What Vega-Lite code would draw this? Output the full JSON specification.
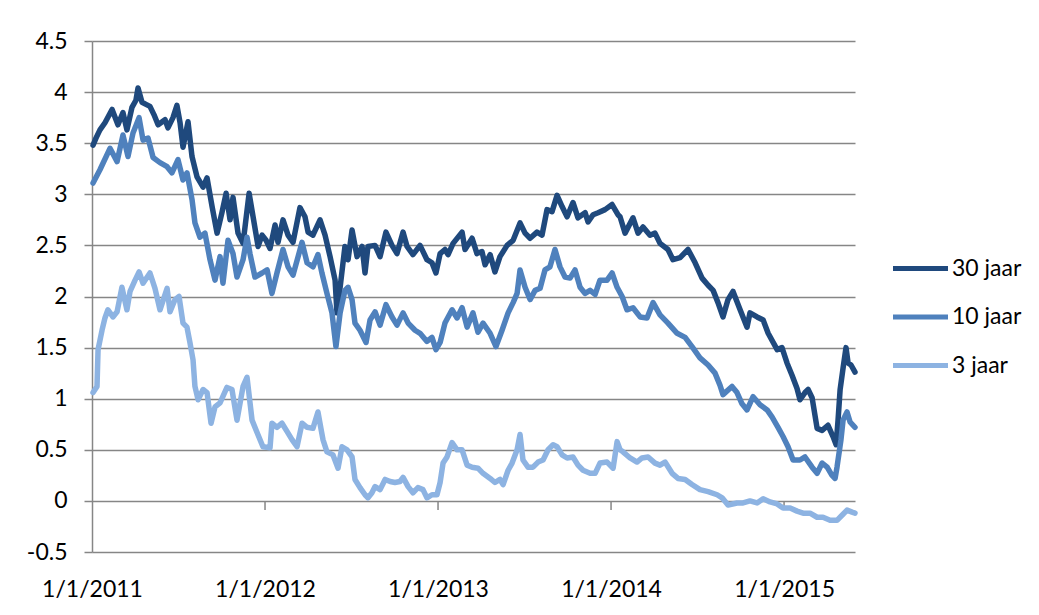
{
  "$schema": "https://vega.github.io/schema/vega-lite/v6.json",
  "width": 763,
  "height": 511,
  "autosize": {"type": "none"},
  "padding": {"left": 92, "top": 41, "right": 184, "bottom": 63},
  "background": "white",
  "config": {
    "view": {"stroke": null},
    "font": "Lato",
    "axis": {"labelFont": "Lato", "labelFontSize": 23, "labelColor": "#000000", "title": null}
  },
  "datasets": {
    "rente": [
      {"reeks":"30 jaar","t":2011.006,"rente":3.48},{"reeks":"30 jaar","t":2011.023,"rente":3.55},{"reeks":"30 jaar","t":2011.046,"rente":3.63},{"reeks":"30 jaar","t":2011.075,"rente":3.70},{"reeks":"30 jaar","t":2011.116,"rente":3.83},{"reeks":"30 jaar","t":2011.150,"rente":3.68},{"reeks":"30 jaar","t":2011.179,"rente":3.80},{"reeks":"30 jaar","t":2011.202,"rente":3.63},{"reeks":"30 jaar","t":2011.231,"rente":3.85},{"reeks":"30 jaar","t":2011.254,"rente":3.92},{"reeks":"30 jaar","t":2011.266,"rente":4.04},{"reeks":"30 jaar","t":2011.289,"rente":3.90},{"reeks":"30 jaar","t":2011.312,"rente":3.88},{"reeks":"30 jaar","t":2011.335,"rente":3.86},{"reeks":"30 jaar","t":2011.358,"rente":3.78},{"reeks":"30 jaar","t":2011.382,"rente":3.68},{"reeks":"30 jaar","t":2011.422,"rente":3.73},{"reeks":"30 jaar","t":2011.439,"rente":3.65},{"reeks":"30 jaar","t":2011.468,"rente":3.75},{"reeks":"30 jaar","t":2011.491,"rente":3.87},{"reeks":"30 jaar","t":2011.509,"rente":3.70},{"reeks":"30 jaar","t":2011.526,"rente":3.46},{"reeks":"30 jaar","t":2011.555,"rente":3.71},{"reeks":"30 jaar","t":2011.578,"rente":3.37},{"reeks":"30 jaar","t":2011.607,"rente":3.17},{"reeks":"30 jaar","t":2011.642,"rente":3.07},{"reeks":"30 jaar","t":2011.665,"rente":3.16},{"reeks":"30 jaar","t":2011.694,"rente":2.88},{"reeks":"30 jaar","t":2011.723,"rente":2.62},{"reeks":"30 jaar","t":2011.751,"rente":2.82},{"reeks":"30 jaar","t":2011.775,"rente":3.01},{"reeks":"30 jaar","t":2011.798,"rente":2.75},{"reeks":"30 jaar","t":2011.815,"rente":2.97},{"reeks":"30 jaar","t":2011.844,"rente":2.62},{"reeks":"30 jaar","t":2011.873,"rente":2.52},{"reeks":"30 jaar","t":2011.908,"rente":3.01},{"reeks":"30 jaar","t":2011.931,"rente":2.78},{"reeks":"30 jaar","t":2011.960,"rente":2.49},{"reeks":"30 jaar","t":2011.983,"rente":2.60},{"reeks":"30 jaar","t":2012.006,"rente":2.55},{"reeks":"30 jaar","t":2012.029,"rente":2.47},{"reeks":"30 jaar","t":2012.058,"rente":2.70},{"reeks":"30 jaar","t":2012.075,"rente":2.53},{"reeks":"30 jaar","t":2012.104,"rente":2.75},{"reeks":"30 jaar","t":2012.133,"rente":2.60},{"reeks":"30 jaar","t":2012.162,"rente":2.53},{"reeks":"30 jaar","t":2012.202,"rente":2.87},{"reeks":"30 jaar","t":2012.231,"rente":2.78},{"reeks":"30 jaar","t":2012.249,"rente":2.63},{"reeks":"30 jaar","t":2012.277,"rente":2.60},{"reeks":"30 jaar","t":2012.318,"rente":2.75},{"reeks":"30 jaar","t":2012.347,"rente":2.60},{"reeks":"30 jaar","t":2012.376,"rente":2.39},{"reeks":"30 jaar","t":2012.405,"rente":2.16},{"reeks":"30 jaar","t":2012.416,"rente":1.84},{"reeks":"30 jaar","t":2012.434,"rente":2.09},{"reeks":"30 jaar","t":2012.462,"rente":2.49},{"reeks":"30 jaar","t":2012.480,"rente":2.36},{"reeks":"30 jaar","t":2012.503,"rente":2.65},{"reeks":"30 jaar","t":2012.532,"rente":2.39},{"reeks":"30 jaar","t":2012.561,"rente":2.49},{"reeks":"30 jaar","t":2012.578,"rente":2.23},{"reeks":"30 jaar","t":2012.595,"rente":2.49},{"reeks":"30 jaar","t":2012.636,"rente":2.50},{"reeks":"30 jaar","t":2012.665,"rente":2.39},{"reeks":"30 jaar","t":2012.699,"rente":2.63},{"reeks":"30 jaar","t":2012.734,"rente":2.50},{"reeks":"30 jaar","t":2012.763,"rente":2.42},{"reeks":"30 jaar","t":2012.798,"rente":2.63},{"reeks":"30 jaar","t":2012.821,"rente":2.49},{"reeks":"30 jaar","t":2012.855,"rente":2.41},{"reeks":"30 jaar","t":2012.896,"rente":2.50},{"reeks":"30 jaar","t":2012.936,"rente":2.36},{"reeks":"30 jaar","t":2012.965,"rente":2.33},{"reeks":"30 jaar","t":2012.988,"rente":2.23},{"reeks":"30 jaar","t":2013.012,"rente":2.42},{"reeks":"30 jaar","t":2013.040,"rente":2.46},{"reeks":"30 jaar","t":2013.058,"rente":2.41},{"reeks":"30 jaar","t":2013.087,"rente":2.52},{"reeks":"30 jaar","t":2013.139,"rente":2.63},{"reeks":"30 jaar","t":2013.156,"rente":2.46},{"reeks":"30 jaar","t":2013.197,"rente":2.57},{"reeks":"30 jaar","t":2013.225,"rente":2.42},{"reeks":"30 jaar","t":2013.254,"rente":2.44},{"reeks":"30 jaar","t":2013.272,"rente":2.31},{"reeks":"30 jaar","t":2013.301,"rente":2.41},{"reeks":"30 jaar","t":2013.329,"rente":2.24},{"reeks":"30 jaar","t":2013.358,"rente":2.39},{"reeks":"30 jaar","t":2013.399,"rente":2.50},{"reeks":"30 jaar","t":2013.434,"rente":2.55},{"reeks":"30 jaar","t":2013.474,"rente":2.72},{"reeks":"30 jaar","t":2013.503,"rente":2.62},{"reeks":"30 jaar","t":2013.532,"rente":2.57},{"reeks":"30 jaar","t":2013.572,"rente":2.63},{"reeks":"30 jaar","t":2013.601,"rente":2.60},{"reeks":"30 jaar","t":2013.630,"rente":2.85},{"reeks":"30 jaar","t":2013.659,"rente":2.83},{"reeks":"30 jaar","t":2013.688,"rente":2.99},{"reeks":"30 jaar","t":2013.717,"rente":2.88},{"reeks":"30 jaar","t":2013.746,"rente":2.78},{"reeks":"30 jaar","t":2013.780,"rente":2.92},{"reeks":"30 jaar","t":2013.809,"rente":2.77},{"reeks":"30 jaar","t":2013.850,"rente":2.82},{"reeks":"30 jaar","t":2013.867,"rente":2.73},{"reeks":"30 jaar","t":2013.896,"rente":2.80},{"reeks":"30 jaar","t":2013.925,"rente":2.82},{"reeks":"30 jaar","t":2013.965,"rente":2.85},{"reeks":"30 jaar","t":2014.006,"rente":2.90},{"reeks":"30 jaar","t":2014.040,"rente":2.80},{"reeks":"30 jaar","t":2014.052,"rente":2.78},{"reeks":"30 jaar","t":2014.081,"rente":2.62},{"reeks":"30 jaar","t":2014.127,"rente":2.77},{"reeks":"30 jaar","t":2014.156,"rente":2.62},{"reeks":"30 jaar","t":2014.185,"rente":2.68},{"reeks":"30 jaar","t":2014.225,"rente":2.60},{"reeks":"30 jaar","t":2014.254,"rente":2.62},{"reeks":"30 jaar","t":2014.283,"rente":2.52},{"reeks":"30 jaar","t":2014.329,"rente":2.46},{"reeks":"30 jaar","t":2014.358,"rente":2.36},{"reeks":"30 jaar","t":2014.399,"rente":2.38},{"reeks":"30 jaar","t":2014.445,"rente":2.46},{"reeks":"30 jaar","t":2014.486,"rente":2.33},{"reeks":"30 jaar","t":2014.526,"rente":2.18},{"reeks":"30 jaar","t":2014.561,"rente":2.11},{"reeks":"30 jaar","t":2014.590,"rente":2.06},{"reeks":"30 jaar","t":2014.618,"rente":1.94},{"reeks":"30 jaar","t":2014.647,"rente":1.80},{"reeks":"30 jaar","t":2014.676,"rente":1.97},{"reeks":"30 jaar","t":2014.705,"rente":2.05},{"reeks":"30 jaar","t":2014.746,"rente":1.87},{"reeks":"30 jaar","t":2014.786,"rente":1.70},{"reeks":"30 jaar","t":2014.803,"rente":1.84},{"reeks":"30 jaar","t":2014.844,"rente":1.80},{"reeks":"30 jaar","t":2014.879,"rente":1.77},{"reeks":"30 jaar","t":2014.908,"rente":1.64},{"reeks":"30 jaar","t":2014.960,"rente":1.48},{"reeks":"30 jaar","t":2014.988,"rente":1.50},{"reeks":"30 jaar","t":2015.017,"rente":1.35},{"reeks":"30 jaar","t":2015.046,"rente":1.23},{"reeks":"30 jaar","t":2015.075,"rente":1.10},{"reeks":"30 jaar","t":2015.092,"rente":0.99},{"reeks":"30 jaar","t":2015.121,"rente":1.06},{"reeks":"30 jaar","t":2015.139,"rente":1.09},{"reeks":"30 jaar","t":2015.162,"rente":1.01},{"reeks":"30 jaar","t":2015.191,"rente":0.71},{"reeks":"30 jaar","t":2015.220,"rente":0.69},{"reeks":"30 jaar","t":2015.254,"rente":0.74},{"reeks":"30 jaar","t":2015.283,"rente":0.63},{"reeks":"30 jaar","t":2015.301,"rente":0.55},{"reeks":"30 jaar","t":2015.312,"rente":0.79},{"reeks":"30 jaar","t":2015.324,"rente":1.09},{"reeks":"30 jaar","t":2015.341,"rente":1.30},{"reeks":"30 jaar","t":2015.358,"rente":1.50},{"reeks":"30 jaar","t":2015.370,"rente":1.35},{"reeks":"30 jaar","t":2015.387,"rente":1.33},{"reeks":"30 jaar","t":2015.410,"rente":1.26},
      {"reeks":"10 jaar","t":2011.006,"rente":3.11},{"reeks":"10 jaar","t":2011.046,"rente":3.24},{"reeks":"10 jaar","t":2011.104,"rente":3.45},{"reeks":"10 jaar","t":2011.145,"rente":3.32},{"reeks":"10 jaar","t":2011.179,"rente":3.58},{"reeks":"10 jaar","t":2011.208,"rente":3.37},{"reeks":"10 jaar","t":2011.237,"rente":3.60},{"reeks":"10 jaar","t":2011.272,"rente":3.75},{"reeks":"10 jaar","t":2011.295,"rente":3.53},{"reeks":"10 jaar","t":2011.324,"rente":3.55},{"reeks":"10 jaar","t":2011.353,"rente":3.36},{"reeks":"10 jaar","t":2011.393,"rente":3.31},{"reeks":"10 jaar","t":2011.434,"rente":3.27},{"reeks":"10 jaar","t":2011.462,"rente":3.21},{"reeks":"10 jaar","t":2011.497,"rente":3.34},{"reeks":"10 jaar","t":2011.526,"rente":3.14},{"reeks":"10 jaar","t":2011.549,"rente":3.21},{"reeks":"10 jaar","t":2011.578,"rente":2.95},{"reeks":"10 jaar","t":2011.595,"rente":2.72},{"reeks":"10 jaar","t":2011.624,"rente":2.58},{"reeks":"10 jaar","t":2011.653,"rente":2.62},{"reeks":"10 jaar","t":2011.682,"rente":2.36},{"reeks":"10 jaar","t":2011.711,"rente":2.16},{"reeks":"10 jaar","t":2011.740,"rente":2.39},{"reeks":"10 jaar","t":2011.757,"rente":2.13},{"reeks":"10 jaar","t":2011.786,"rente":2.55},{"reeks":"10 jaar","t":2011.815,"rente":2.42},{"reeks":"10 jaar","t":2011.838,"rente":2.19},{"reeks":"10 jaar","t":2011.873,"rente":2.36},{"reeks":"10 jaar","t":2011.896,"rente":2.58},{"reeks":"10 jaar","t":2011.913,"rente":2.42},{"reeks":"10 jaar","t":2011.942,"rente":2.19},{"reeks":"10 jaar","t":2011.983,"rente":2.23},{"reeks":"10 jaar","t":2012.012,"rente":2.26},{"reeks":"10 jaar","t":2012.040,"rente":2.03},{"reeks":"10 jaar","t":2012.069,"rente":2.23},{"reeks":"10 jaar","t":2012.104,"rente":2.46},{"reeks":"10 jaar","t":2012.133,"rente":2.29},{"reeks":"10 jaar","t":2012.162,"rente":2.21},{"reeks":"10 jaar","t":2012.214,"rente":2.53},{"reeks":"10 jaar","t":2012.243,"rente":2.33},{"reeks":"10 jaar","t":2012.277,"rente":2.29},{"reeks":"10 jaar","t":2012.306,"rente":2.41},{"reeks":"10 jaar","t":2012.329,"rente":2.23},{"reeks":"10 jaar","t":2012.358,"rente":2.03},{"reeks":"10 jaar","t":2012.387,"rente":1.84},{"reeks":"10 jaar","t":2012.410,"rente":1.51},{"reeks":"10 jaar","t":2012.434,"rente":1.84},{"reeks":"10 jaar","t":2012.462,"rente":2.06},{"reeks":"10 jaar","t":2012.480,"rente":2.09},{"reeks":"10 jaar","t":2012.503,"rente":1.97},{"reeks":"10 jaar","t":2012.520,"rente":1.74},{"reeks":"10 jaar","t":2012.549,"rente":1.67},{"reeks":"10 jaar","t":2012.584,"rente":1.55},{"reeks":"10 jaar","t":2012.607,"rente":1.77},{"reeks":"10 jaar","t":2012.636,"rente":1.85},{"reeks":"10 jaar","t":2012.665,"rente":1.72},{"reeks":"10 jaar","t":2012.699,"rente":1.92},{"reeks":"10 jaar","t":2012.734,"rente":1.80},{"reeks":"10 jaar","t":2012.763,"rente":1.72},{"reeks":"10 jaar","t":2012.798,"rente":1.84},{"reeks":"10 jaar","t":2012.827,"rente":1.74},{"reeks":"10 jaar","t":2012.867,"rente":1.67},{"reeks":"10 jaar","t":2012.896,"rente":1.64},{"reeks":"10 jaar","t":2012.936,"rente":1.56},{"reeks":"10 jaar","t":2012.965,"rente":1.60},{"reeks":"10 jaar","t":2012.988,"rente":1.48},{"reeks":"10 jaar","t":2013.012,"rente":1.55},{"reeks":"10 jaar","t":2013.040,"rente":1.74},{"reeks":"10 jaar","t":2013.081,"rente":1.87},{"reeks":"10 jaar","t":2013.110,"rente":1.79},{"reeks":"10 jaar","t":2013.139,"rente":1.89},{"reeks":"10 jaar","t":2013.168,"rente":1.70},{"reeks":"10 jaar","t":2013.202,"rente":1.84},{"reeks":"10 jaar","t":2013.231,"rente":1.65},{"reeks":"10 jaar","t":2013.260,"rente":1.74},{"reeks":"10 jaar","t":2013.301,"rente":1.64},{"reeks":"10 jaar","t":2013.335,"rente":1.51},{"reeks":"10 jaar","t":2013.370,"rente":1.67},{"reeks":"10 jaar","t":2013.405,"rente":1.84},{"reeks":"10 jaar","t":2013.434,"rente":1.94},{"reeks":"10 jaar","t":2013.457,"rente":2.03},{"reeks":"10 jaar","t":2013.474,"rente":2.26},{"reeks":"10 jaar","t":2013.503,"rente":2.09},{"reeks":"10 jaar","t":2013.532,"rente":1.97},{"reeks":"10 jaar","t":2013.561,"rente":2.06},{"reeks":"10 jaar","t":2013.590,"rente":2.08},{"reeks":"10 jaar","t":2013.618,"rente":2.26},{"reeks":"10 jaar","t":2013.647,"rente":2.29},{"reeks":"10 jaar","t":2013.676,"rente":2.46},{"reeks":"10 jaar","t":2013.705,"rente":2.29},{"reeks":"10 jaar","t":2013.734,"rente":2.19},{"reeks":"10 jaar","t":2013.763,"rente":2.18},{"reeks":"10 jaar","t":2013.792,"rente":2.26},{"reeks":"10 jaar","t":2013.821,"rente":2.09},{"reeks":"10 jaar","t":2013.850,"rente":2.03},{"reeks":"10 jaar","t":2013.879,"rente":2.06},{"reeks":"10 jaar","t":2013.908,"rente":2.02},{"reeks":"10 jaar","t":2013.936,"rente":2.16},{"reeks":"10 jaar","t":2013.977,"rente":2.16},{"reeks":"10 jaar","t":2014.006,"rente":2.23},{"reeks":"10 jaar","t":2014.035,"rente":2.09},{"reeks":"10 jaar","t":2014.064,"rente":2.00},{"reeks":"10 jaar","t":2014.092,"rente":1.87},{"reeks":"10 jaar","t":2014.127,"rente":1.89},{"reeks":"10 jaar","t":2014.168,"rente":1.80},{"reeks":"10 jaar","t":2014.208,"rente":1.79},{"reeks":"10 jaar","t":2014.243,"rente":1.94},{"reeks":"10 jaar","t":2014.283,"rente":1.82},{"reeks":"10 jaar","t":2014.329,"rente":1.74},{"reeks":"10 jaar","t":2014.382,"rente":1.64},{"reeks":"10 jaar","t":2014.428,"rente":1.60},{"reeks":"10 jaar","t":2014.468,"rente":1.51},{"reeks":"10 jaar","t":2014.514,"rente":1.40},{"reeks":"10 jaar","t":2014.561,"rente":1.33},{"reeks":"10 jaar","t":2014.601,"rente":1.25},{"reeks":"10 jaar","t":2014.630,"rente":1.13},{"reeks":"10 jaar","t":2014.647,"rente":1.04},{"reeks":"10 jaar","t":2014.699,"rente":1.12},{"reeks":"10 jaar","t":2014.728,"rente":1.06},{"reeks":"10 jaar","t":2014.757,"rente":0.95},{"reeks":"10 jaar","t":2014.786,"rente":0.89},{"reeks":"10 jaar","t":2014.821,"rente":1.02},{"reeks":"10 jaar","t":2014.861,"rente":0.94},{"reeks":"10 jaar","t":2014.902,"rente":0.89},{"reeks":"10 jaar","t":2014.931,"rente":0.82},{"reeks":"10 jaar","t":2014.965,"rente":0.72},{"reeks":"10 jaar","t":2014.994,"rente":0.63},{"reeks":"10 jaar","t":2015.023,"rente":0.53},{"reeks":"10 jaar","t":2015.052,"rente":0.40},{"reeks":"10 jaar","t":2015.092,"rente":0.40},{"reeks":"10 jaar","t":2015.121,"rente":0.43},{"reeks":"10 jaar","t":2015.162,"rente":0.33},{"reeks":"10 jaar","t":2015.191,"rente":0.27},{"reeks":"10 jaar","t":2015.220,"rente":0.37},{"reeks":"10 jaar","t":2015.249,"rente":0.33},{"reeks":"10 jaar","t":2015.277,"rente":0.25},{"reeks":"10 jaar","t":2015.295,"rente":0.22},{"reeks":"10 jaar","t":2015.306,"rente":0.33},{"reeks":"10 jaar","t":2015.329,"rente":0.60},{"reeks":"10 jaar","t":2015.341,"rente":0.79},{"reeks":"10 jaar","t":2015.364,"rente":0.87},{"reeks":"10 jaar","t":2015.382,"rente":0.77},{"reeks":"10 jaar","t":2015.410,"rente":0.72},
      {"reeks":"3 jaar","t":2011.006,"rente":1.06},{"reeks":"3 jaar","t":2011.029,"rente":1.12},{"reeks":"3 jaar","t":2011.035,"rente":1.48},{"reeks":"3 jaar","t":2011.058,"rente":1.67},{"reeks":"3 jaar","t":2011.075,"rente":1.79},{"reeks":"3 jaar","t":2011.092,"rente":1.87},{"reeks":"3 jaar","t":2011.121,"rente":1.80},{"reeks":"3 jaar","t":2011.145,"rente":1.85},{"reeks":"3 jaar","t":2011.173,"rente":2.09},{"reeks":"3 jaar","t":2011.202,"rente":1.87},{"reeks":"3 jaar","t":2011.220,"rente":2.05},{"reeks":"3 jaar","t":2011.249,"rente":2.16},{"reeks":"3 jaar","t":2011.272,"rente":2.24},{"reeks":"3 jaar","t":2011.295,"rente":2.13},{"reeks":"3 jaar","t":2011.335,"rente":2.23},{"reeks":"3 jaar","t":2011.364,"rente":2.08},{"reeks":"3 jaar","t":2011.393,"rente":1.87},{"reeks":"3 jaar","t":2011.434,"rente":2.08},{"reeks":"3 jaar","t":2011.451,"rente":1.85},{"reeks":"3 jaar","t":2011.480,"rente":1.97},{"reeks":"3 jaar","t":2011.503,"rente":2.00},{"reeks":"3 jaar","t":2011.526,"rente":1.74},{"reeks":"3 jaar","t":2011.549,"rente":1.70},{"reeks":"3 jaar","t":2011.566,"rente":1.55},{"reeks":"3 jaar","t":2011.584,"rente":1.38},{"reeks":"3 jaar","t":2011.595,"rente":1.12},{"reeks":"3 jaar","t":2011.613,"rente":0.99},{"reeks":"3 jaar","t":2011.642,"rente":1.09},{"reeks":"3 jaar","t":2011.665,"rente":1.06},{"reeks":"3 jaar","t":2011.688,"rente":0.76},{"reeks":"3 jaar","t":2011.711,"rente":0.92},{"reeks":"3 jaar","t":2011.740,"rente":0.96},{"reeks":"3 jaar","t":2011.780,"rente":1.11},{"reeks":"3 jaar","t":2011.809,"rente":1.09},{"reeks":"3 jaar","t":2011.838,"rente":0.79},{"reeks":"3 jaar","t":2011.873,"rente":1.12},{"reeks":"3 jaar","t":2011.896,"rente":1.21},{"reeks":"3 jaar","t":2011.925,"rente":0.79},{"reeks":"3 jaar","t":2011.954,"rente":0.67},{"reeks":"3 jaar","t":2011.988,"rente":0.53},{"reeks":"3 jaar","t":2012.029,"rente":0.52},{"reeks":"3 jaar","t":2012.040,"rente":0.76},{"reeks":"3 jaar","t":2012.069,"rente":0.72},{"reeks":"3 jaar","t":2012.098,"rente":0.76},{"reeks":"3 jaar","t":2012.127,"rente":0.68},{"reeks":"3 jaar","t":2012.156,"rente":0.60},{"reeks":"3 jaar","t":2012.185,"rente":0.53},{"reeks":"3 jaar","t":2012.214,"rente":0.76},{"reeks":"3 jaar","t":2012.243,"rente":0.72},{"reeks":"3 jaar","t":2012.277,"rente":0.71},{"reeks":"3 jaar","t":2012.306,"rente":0.87},{"reeks":"3 jaar","t":2012.324,"rente":0.70},{"reeks":"3 jaar","t":2012.335,"rente":0.60},{"reeks":"3 jaar","t":2012.358,"rente":0.48},{"reeks":"3 jaar","t":2012.393,"rente":0.45},{"reeks":"3 jaar","t":2012.422,"rente":0.32},{"reeks":"3 jaar","t":2012.445,"rente":0.53},{"reeks":"3 jaar","t":2012.474,"rente":0.50},{"reeks":"3 jaar","t":2012.503,"rente":0.43},{"reeks":"3 jaar","t":2012.520,"rente":0.21},{"reeks":"3 jaar","t":2012.549,"rente":0.13},{"reeks":"3 jaar","t":2012.578,"rente":0.06},{"reeks":"3 jaar","t":2012.595,"rente":0.03},{"reeks":"3 jaar","t":2012.618,"rente":0.08},{"reeks":"3 jaar","t":2012.636,"rente":0.14},{"reeks":"3 jaar","t":2012.665,"rente":0.11},{"reeks":"3 jaar","t":2012.694,"rente":0.21},{"reeks":"3 jaar","t":2012.723,"rente":0.19},{"reeks":"3 jaar","t":2012.751,"rente":0.18},{"reeks":"3 jaar","t":2012.780,"rente":0.19},{"reeks":"3 jaar","t":2012.798,"rente":0.23},{"reeks":"3 jaar","t":2012.827,"rente":0.14},{"reeks":"3 jaar","t":2012.855,"rente":0.08},{"reeks":"3 jaar","t":2012.884,"rente":0.13},{"reeks":"3 jaar","t":2012.913,"rente":0.11},{"reeks":"3 jaar","t":2012.936,"rente":0.03},{"reeks":"3 jaar","t":2012.965,"rente":0.06},{"reeks":"3 jaar","t":2012.994,"rente":0.06},{"reeks":"3 jaar","t":2013.012,"rente":0.18},{"reeks":"3 jaar","t":2013.029,"rente":0.37},{"reeks":"3 jaar","t":2013.052,"rente":0.43},{"reeks":"3 jaar","t":2013.081,"rente":0.57},{"reeks":"3 jaar","t":2013.110,"rente":0.50},{"reeks":"3 jaar","t":2013.139,"rente":0.50},{"reeks":"3 jaar","t":2013.168,"rente":0.35},{"reeks":"3 jaar","t":2013.197,"rente":0.33},{"reeks":"3 jaar","t":2013.231,"rente":0.32},{"reeks":"3 jaar","t":2013.260,"rente":0.27},{"reeks":"3 jaar","t":2013.301,"rente":0.22},{"reeks":"3 jaar","t":2013.329,"rente":0.18},{"reeks":"3 jaar","t":2013.358,"rente":0.21},{"reeks":"3 jaar","t":2013.376,"rente":0.16},{"reeks":"3 jaar","t":2013.405,"rente":0.30},{"reeks":"3 jaar","t":2013.428,"rente":0.37},{"reeks":"3 jaar","t":2013.457,"rente":0.50},{"reeks":"3 jaar","t":2013.474,"rente":0.65},{"reeks":"3 jaar","t":2013.491,"rente":0.40},{"reeks":"3 jaar","t":2013.520,"rente":0.33},{"reeks":"3 jaar","t":2013.549,"rente":0.33},{"reeks":"3 jaar","t":2013.578,"rente":0.38},{"reeks":"3 jaar","t":2013.607,"rente":0.40},{"reeks":"3 jaar","t":2013.636,"rente":0.50},{"reeks":"3 jaar","t":2013.665,"rente":0.55},{"reeks":"3 jaar","t":2013.688,"rente":0.53},{"reeks":"3 jaar","t":2013.717,"rente":0.45},{"reeks":"3 jaar","t":2013.746,"rente":0.42},{"reeks":"3 jaar","t":2013.780,"rente":0.43},{"reeks":"3 jaar","t":2013.809,"rente":0.35},{"reeks":"3 jaar","t":2013.838,"rente":0.30},{"reeks":"3 jaar","t":2013.879,"rente":0.27},{"reeks":"3 jaar","t":2013.908,"rente":0.27},{"reeks":"3 jaar","t":2013.936,"rente":0.37},{"reeks":"3 jaar","t":2013.977,"rente":0.38},{"reeks":"3 jaar","t":2014.012,"rente":0.32},{"reeks":"3 jaar","t":2014.035,"rente":0.58},{"reeks":"3 jaar","t":2014.052,"rente":0.50},{"reeks":"3 jaar","t":2014.069,"rente":0.48},{"reeks":"3 jaar","t":2014.110,"rente":0.42},{"reeks":"3 jaar","t":2014.150,"rente":0.38},{"reeks":"3 jaar","t":2014.179,"rente":0.42},{"reeks":"3 jaar","t":2014.214,"rente":0.43},{"reeks":"3 jaar","t":2014.254,"rente":0.37},{"reeks":"3 jaar","t":2014.283,"rente":0.35},{"reeks":"3 jaar","t":2014.312,"rente":0.38},{"reeks":"3 jaar","t":2014.353,"rente":0.27},{"reeks":"3 jaar","t":2014.387,"rente":0.22},{"reeks":"3 jaar","t":2014.428,"rente":0.21},{"reeks":"3 jaar","t":2014.468,"rente":0.16},{"reeks":"3 jaar","t":2014.514,"rente":0.11},{"reeks":"3 jaar","t":2014.561,"rente":0.09},{"reeks":"3 jaar","t":2014.613,"rente":0.06},{"reeks":"3 jaar","t":2014.642,"rente":0.03},{"reeks":"3 jaar","t":2014.676,"rente":-0.04},{"reeks":"3 jaar","t":2014.728,"rente":-0.02},{"reeks":"3 jaar","t":2014.763,"rente":-0.02},{"reeks":"3 jaar","t":2014.803,"rente":0.00},{"reeks":"3 jaar","t":2014.844,"rente":-0.02},{"reeks":"3 jaar","t":2014.879,"rente":0.02},{"reeks":"3 jaar","t":2014.919,"rente":-0.01},{"reeks":"3 jaar","t":2014.960,"rente":-0.03},{"reeks":"3 jaar","t":2014.994,"rente":-0.07},{"reeks":"3 jaar","t":2015.035,"rente":-0.07},{"reeks":"3 jaar","t":2015.075,"rente":-0.10},{"reeks":"3 jaar","t":2015.110,"rente":-0.12},{"reeks":"3 jaar","t":2015.150,"rente":-0.12},{"reeks":"3 jaar","t":2015.191,"rente":-0.16},{"reeks":"3 jaar","t":2015.225,"rente":-0.16},{"reeks":"3 jaar","t":2015.266,"rente":-0.19},{"reeks":"3 jaar","t":2015.306,"rente":-0.19},{"reeks":"3 jaar","t":2015.335,"rente":-0.14},{"reeks":"3 jaar","t":2015.364,"rente":-0.09},{"reeks":"3 jaar","t":2015.393,"rente":-0.11},{"reeks":"3 jaar","t":2015.410,"rente":-0.12}
    ],
    "jaartikken": [{"t": 2012}, {"t": 2013}, {"t": 2014}, {"t": 2015}]
  },
  "layer": [
    {
      "data": {"name": "jaartikken"},
      "mark": {"type": "rule", "color": "#868686", "strokeWidth": 1.5},
      "encoding": {
        "x": {"field": "t", "type": "quantitative"},
        "y": {"datum": 0},
        "y2": {"datum": -0.09}
      }
    },
    {
      "data": {"name": "rente"},
      "mark": {"type": "line", "strokeWidth": 5.5, "strokeJoin": "round", "strokeCap": "round"},
      "encoding": {
        "x": {
          "field": "t", "type": "quantitative",
          "scale": {"domain": [2011, 2015.41], "nice": false, "zero": false},
          "axis": {
            "values": [2011, 2012, 2013, 2014, 2015],
            "labelExpr": "'1/1/' + datum.value",
            "grid": false, "domain": false, "ticks": false,
            "labelPadding": 26, "labelFlush": false
          }
        },
        "y": {
          "field": "rente", "type": "quantitative",
          "scale": {"domain": [-0.5, 4.5], "nice": false, "zero": false},
          "axis": {
            "values": [-0.5, 0, 0.5, 1, 1.5, 2, 2.5, 3, 3.5, 4, 4.5],
            "labelExpr": "'' + datum.value",
            "grid": true, "gridColor": "#868686", "gridWidth": 1.5, "gridOpacity": 1,
            "domain": true, "domainColor": "#868686", "domainWidth": 1.5,
            "ticks": true, "tickColor": "#868686", "tickWidth": 1.5, "tickSize": 8,
            "labelPadding": 17
          }
        },
        "color": {
          "field": "reeks", "type": "nominal",
          "scale": {"domain": ["30 jaar", "10 jaar", "3 jaar"], "range": ["#1F497D", "#4F81BD", "#8DB3E2"]},
          "legend": {
            "title": null,
            "orient": "none",
            "legendX": 815,
            "legendY": 214,
            "padding": 0,
            "symbolType": "M-2.5,0L2.5,0",
            "symbolSize": 484,
            "symbolStrokeWidth": 5,
            "labelOffset": 18,
            "rowPadding": 22.5,
            "labelFont": "Lato",
            "labelFontSize": 23,
            "labelColor": "#000000"
          }
        },
        "order": {"field": "t", "type": "quantitative"}
      }
    }
  ]
}
